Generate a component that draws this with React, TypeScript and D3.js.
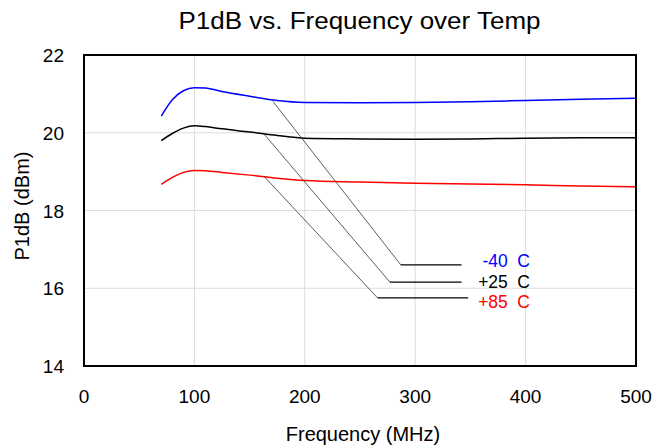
import React from 'react';
import * as d3 from 'd3';

const freqs = [70, 80, 90, 100, 110, 125, 150, 175, 200, 250, 300, 350, 400, 450, 500];
const m40 = [20.43, 20.85, 21.08, 21.16, 21.15, 21.06, 20.94, 20.83, 20.78, 20.77, 20.78, 20.8, 20.83, 20.86, 20.89];
const p25 = [19.8, 19.98, 20.12, 20.18, 20.16, 20.1, 20.02, 19.93, 19.86, 19.84, 19.83, 19.84, 19.86, 19.87, 19.87];
const p85 = [18.67, 18.85, 18.98, 19.03, 19.02, 18.98, 18.91, 18.83, 18.77, 18.73, 18.7, 18.68, 18.66, 18.63, 18.61];

const xTicks = [0, 100, 200, 300, 400, 500];
const yTicks = [14, 16, 18, 20, 22];

// callouts: leader from a point on the curve to an elbow, then a flat line, then the label
const callouts = [
  { temp: '-40', values: m40, color: '#0000ff', from: [171, 20.81], elbow: [287, 16.6], end: 342, textAt: [361, 16.55] },
  { temp: '+25', values: p25, color: '#000000', from: [163, 19.97], elbow: [277, 16.16], end: 342, textAt: [357, 16.01] },
  { temp: '+85', values: p85, color: '#ff0000', from: [163, 18.88], elbow: [266, 15.75], end: 348, textAt: [357, 15.49] },
];

const font = 'Liberation Sans, Arial, sans-serif';

export default function App() {
  const W = 656, H = 445;
  const m = { left: 84, right: 20, top: 55, bottom: 79 };
  const x = d3.scaleLinear().domain([0, 500]).range([m.left, W - m.right]);
  const y = d3.scaleLinear().domain([14, 22]).range([H - m.bottom, m.top]);
  const line = d3
    .line<number>()
    .x((_, i) => x(freqs[i]))
    .y((d) => y(d))
    .curve(d3.curveMonotoneX);

  return (
    <svg width={W} height={H} style={{ position: 'absolute', left: 0, top: 0, fontFamily: font }}>
      <rect width={W} height={H} fill="#fff" />
      <text x={359.5} y={29} textAnchor="middle" fontSize={23} textLength={362} lengthAdjust="spacingAndGlyphs">
        P1dB vs. Frequency over Temp
      </text>

      {xTicks.slice(1, -1).map((t) => (
        <line key={'gx' + t} x1={x(t)} x2={x(t)} y1={y(14)} y2={y(22)} stroke="#dcdcdc" />
      ))}
      {yTicks.slice(1, -1).map((t) => (
        <line key={'gy' + t} x1={x(0)} x2={x(500)} y1={y(t)} y2={y(t)} stroke="#dcdcdc" />
      ))}

      {xTicks.map((t) => (
        <text key={'xt' + t} x={x(t)} y={y(14) + 37} textAnchor="middle" fontSize={19}>{t}</text>
      ))}
      {yTicks.map((t) => (
        <text key={'yt' + t} x={x(0) - 20} y={y(t) + 7} textAnchor="end" fontSize={19}>{t}</text>
      ))}

      <text x={363} y={441} textAnchor="middle" fontSize={20}>Frequency (MHz)</text>
      <text transform="translate(29,206) rotate(-90)" textAnchor="middle" fontSize={20}>
        P1dB (dBm)
      </text>

      {callouts.map((c) => (
        <path key={c.temp} d={line(c.values) ?? ''} fill="none" stroke={c.color} strokeWidth={1.5} />
      ))}

      {callouts.map((c) => (
        <g key={'c' + c.temp}>
          <line x1={x(c.from[0])} y1={y(c.from[1])} x2={x(c.elbow[0])} y2={y(c.elbow[1])} stroke="#333" strokeWidth={0.8} />
          <line x1={x(c.elbow[0])} y1={y(c.elbow[1])} x2={x(c.end)} y2={y(c.elbow[1])} stroke="#000" strokeWidth={1.2} />
          <text x={x(c.textAt[0])} y={y(c.textAt[1])} fontSize={17.5} fill={c.color}>{c.temp}</text>
          <text x={530} y={y(c.textAt[1])} textAnchor="end" fontSize={17.5} fill={c.color}>C</text>
        </g>
      ))}

      <rect x={x(0)} y={y(22)} width={x(500) - x(0)} height={y(14) - y(22)} fill="none" stroke="#000" strokeWidth={2} />
    </svg>
  );
}
